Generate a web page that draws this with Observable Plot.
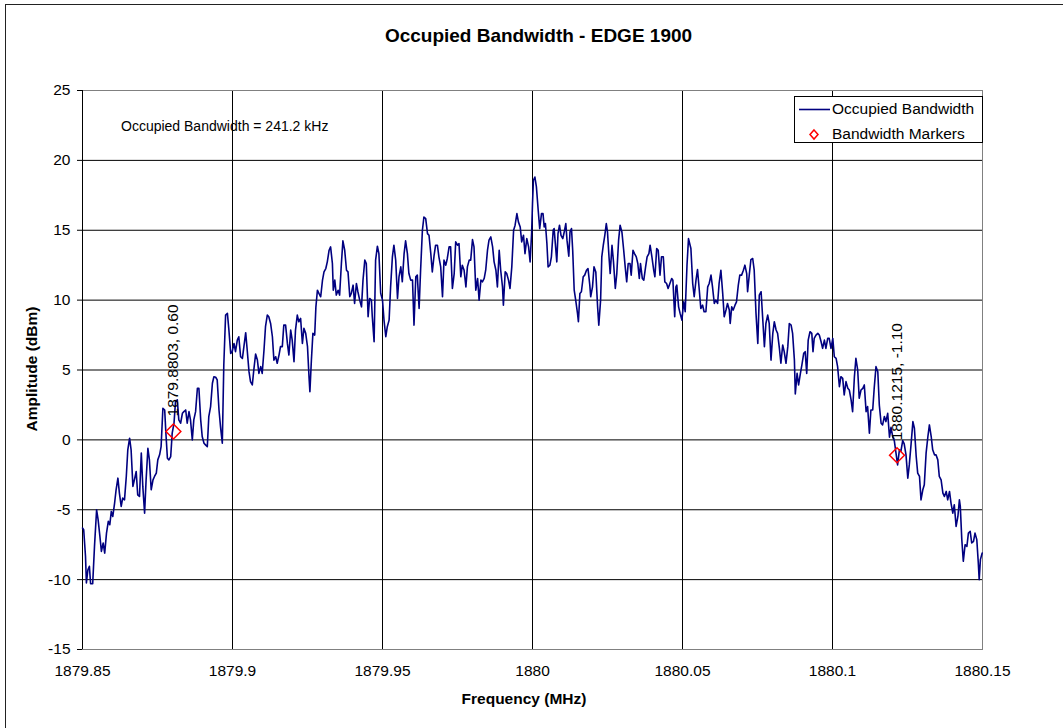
<!DOCTYPE html>
<html>
<head>
<meta charset="utf-8">
<script src="https://cdn.jsdelivr.net/npm/d3@7"></script>
<script src="https://cdn.jsdelivr.net/npm/@observablehq/plot@0.6"></script>
<style>
  html, body { margin: 0; padding: 0; background: #fff; overflow: hidden; }
  #wrap { position: relative; width: 1063px; height: 728px; font-family: "Liberation Sans", Arial, sans-serif; }
  #border { position: absolute; left: 5px; top: 4px; width: 1200px; height: 900px; border-left: 1px solid #222; border-top: 1px solid #222; }
  #chart { position: absolute; left: 0; top: 0; }
  #overlay { position: absolute; left: 0; top: 0; pointer-events: none; }
  #legend { position: absolute; left: 794px; top: 96px; width: 187px; height: 45px; border: 1px solid #000; background: #fff; font-size: 15.5px; }
  .li { position: absolute; left: 0; height: 20px; width: 187px; }
  .li span { position: absolute; left: 37px; top: 1px; white-space: nowrap; color: #000; }
  .li svg { position: absolute; left: 0; top: 0; }
</style>
</head>
<body>
<div id="wrap">
  <div id="border"></div>
  <div id="chart"></div>
  <svg id="overlay" width="1063" height="728"></svg>
  <div id="legend"></div>
</div>
<script>
// ---------- data ----------
const chartTitle = "Occupied Bandwidth - EDGE 1900";
const xAxisTitle = "Frequency (MHz)";
const yAxisTitle = "Amplitude (dBm)";
const annotation = "Occupied Bandwidth = 241.2 kHz";
const seriesNames = ["Occupied Bandwidth", "Bandwidth Markers"];

const xTicks = [1879.85, 1879.9, 1879.95, 1880, 1880.05, 1880.1, 1880.15];
const xTickLabels = ["1879.85", "1879.9", "1879.95", "1880", "1880.05", "1880.1", "1880.15"];
const yTicks = [-15, -10, -5, 0, 5, 10, 15, 20, 25];
const yTickLabels = ["-15", "-10", "-5", "0", "5", "10", "15", "20", "25"];

const markerFreq = [1879.8803, 1880.1215];
const markerAmp = [0.60, -1.10];
const markerLabels = ["1879.8803, 0.60", "1880.1215, -1.10"];

// spectrum trace: [frequency MHz, amplitude dBm]
const spectrum = [
[1879.8500,-6.31],[1879.8504,-6.43],[1879.8510,-8.33],[1879.8513,-10.24],[1879.8518,-9.29],[1879.8523,-9.05],
[1879.8527,-10.29],[1879.8534,-10.29],[1879.8540,-7.62],[1879.8547,-5.00],[1879.8552,-5.71],[1879.8558,-6.90],
[1879.8563,-7.98],[1879.8569,-7.38],[1879.8574,-8.10],[1879.8580,-6.67],[1879.8586,-5.83],[1879.8591,-6.07],
[1879.8596,-5.12],[1879.8601,-5.48],[1879.8607,-4.52],[1879.8612,-3.57],[1879.8618,-2.74],[1879.8623,-3.81],
[1879.8629,-4.76],[1879.8634,-4.17],[1879.8640,-4.29],[1879.8646,-2.62],[1879.8651,-0.71],[1879.8657,0.12],
[1879.8662,-0.71],[1879.8668,-3.33],[1879.8673,-2.86],[1879.8679,-2.26],[1879.8684,-3.93],[1879.8690,-4.05],
[1879.8696,-0.95],[1879.8701,-3.33],[1879.8707,-5.24],[1879.8712,-2.86],[1879.8718,-0.60],[1879.8723,-1.43],
[1879.8729,-3.57],[1879.8735,-2.86],[1879.8740,-2.62],[1879.8746,-2.38],[1879.8751,-1.43],[1879.8757,-1.07],
[1879.8762,-0.48],[1879.8768,2.26],[1879.8774,2.14],[1879.8778,0.48],[1879.8783,-1.31],[1879.8788,-1.43],
[1879.8794,-1.19],[1879.8799,0.48],[1879.8805,1.19],[1879.8810,2.74],[1879.8816,2.86],[1879.8821,1.43],
[1879.8827,1.19],[1879.8833,1.90],[1879.8838,2.02],[1879.8844,2.14],[1879.8849,1.19],[1879.8855,2.02],
[1879.8860,1.43],[1879.8866,0.00],[1879.8871,1.43],[1879.8877,2.02],[1879.8883,3.69],[1879.8888,3.69],
[1879.8894,1.43],[1879.8899,0.24],[1879.8905,-0.24],[1879.8910,-0.36],[1879.8916,-0.48],[1879.8921,1.67],
[1879.8927,2.38],[1879.8933,4.05],[1879.8938,4.52],[1879.8944,4.48],[1879.8949,4.29],[1879.8955,2.14],
[1879.8960,0.95],[1879.8966,-0.24],[1879.8971,5.36],[1879.8977,8.93],[1879.8983,9.05],[1879.8988,7.86],
[1879.8994,6.19],[1879.8999,6.31],[1879.9005,6.90],[1879.9010,6.31],[1879.9016,7.14],[1879.9021,7.38],
[1879.9027,5.95],[1879.9033,5.83],[1879.9038,6.67],[1879.9044,7.67],[1879.9049,6.43],[1879.9055,4.88],
[1879.9060,4.17],[1879.9066,3.93],[1879.9071,5.00],[1879.9077,6.14],[1879.9083,5.71],[1879.9088,4.76],
[1879.9094,5.24],[1879.9099,4.76],[1879.9105,6.43],[1879.9110,8.10],[1879.9116,8.93],[1879.9121,8.81],
[1879.9127,8.33],[1879.9133,7.38],[1879.9138,5.71],[1879.9144,5.95],[1879.9149,5.48],[1879.9155,6.07],
[1879.9160,6.67],[1879.9166,6.67],[1879.9171,8.21],[1879.9177,8.21],[1879.9183,6.90],[1879.9188,6.07],
[1879.9194,7.86],[1879.9199,7.14],[1879.9205,5.60],[1879.9210,7.86],[1879.9216,8.93],[1879.9221,8.45],
[1879.9227,8.69],[1879.9233,6.90],[1879.9238,7.98],[1879.9244,7.62],[1879.9250,6.67],[1879.9255,4.52],
[1879.9258,3.45],[1879.9263,5.71],[1879.9268,7.62],[1879.9274,7.50],[1879.9278,9.52],[1879.9283,10.71],
[1879.9288,10.48],[1879.9294,10.24],[1879.9300,11.43],[1879.9305,12.02],[1879.9311,12.26],[1879.9316,12.74],
[1879.9322,13.57],[1879.9327,13.81],[1879.9333,12.62],[1879.9336,10.71],[1879.9341,11.43],[1879.9346,10.36],
[1879.9352,10.71],[1879.9357,10.36],[1879.9363,12.62],[1879.9368,14.24],[1879.9374,13.57],[1879.9380,12.14],
[1879.9385,12.02],[1879.9391,10.24],[1879.9396,10.48],[1879.9402,11.07],[1879.9407,9.76],[1879.9413,11.19],
[1879.9418,10.60],[1879.9424,10.00],[1879.9430,9.52],[1879.9435,11.43],[1879.9441,12.86],[1879.9446,12.62],
[1879.9452,8.81],[1879.9457,10.12],[1879.9463,10.00],[1879.9466,8.81],[1879.9472,7.02],[1879.9477,12.86],
[1879.9483,13.86],[1879.9488,13.33],[1879.9494,10.48],[1879.9500,10.00],[1879.9505,8.57],[1879.9511,7.38],
[1879.9516,8.10],[1879.9522,8.57],[1879.9527,10.95],[1879.9533,13.10],[1879.9538,13.93],[1879.9544,12.86],
[1879.9550,10.12],[1879.9555,11.67],[1879.9561,12.38],[1879.9566,11.31],[1879.9572,13.33],[1879.9577,14.24],
[1879.9583,13.33],[1879.9588,11.90],[1879.9594,11.43],[1879.9600,11.43],[1879.9605,8.21],[1879.9611,11.67],
[1879.9616,11.79],[1879.9622,9.40],[1879.9627,12.14],[1879.9633,15.00],[1879.9638,15.95],[1879.9644,15.83],
[1879.9650,14.76],[1879.9655,14.64],[1879.9661,13.33],[1879.9666,12.02],[1879.9672,13.21],[1879.9677,13.93],
[1879.9683,13.93],[1879.9688,13.10],[1879.9694,12.38],[1879.9700,10.24],[1879.9705,12.86],[1879.9711,12.50],
[1879.9716,12.98],[1879.9722,13.81],[1879.9727,13.81],[1879.9733,10.83],[1879.9739,11.90],[1879.9744,14.17],
[1879.9750,13.93],[1879.9755,14.05],[1879.9761,11.67],[1879.9766,12.50],[1879.9772,12.14],[1879.9778,10.95],
[1879.9783,12.38],[1879.9789,12.86],[1879.9794,12.86],[1879.9800,14.33],[1879.9805,13.81],[1879.9811,10.71],
[1879.9817,11.55],[1879.9822,10.00],[1879.9828,11.43],[1879.9833,11.31],[1879.9839,11.55],[1879.9844,12.14],
[1879.9850,13.57],[1879.9855,14.29],[1879.9861,14.52],[1879.9867,13.81],[1879.9872,12.74],[1879.9878,12.14],
[1879.9883,10.95],[1879.9889,13.57],[1879.9894,12.14],[1879.9900,10.95],[1879.9903,9.64],[1879.9909,12.02],
[1879.9914,11.90],[1879.9920,11.43],[1879.9925,10.83],[1879.9931,12.38],[1879.9937,15.00],[1879.9942,15.36],
[1879.9948,16.19],[1879.9953,15.60],[1879.9959,15.24],[1879.9964,14.17],[1879.9970,14.64],[1879.9975,13.33],
[1879.9981,14.40],[1879.9987,13.81],[1879.9992,12.74],[1879.9997,14.76],[1880.0000,16.90],[1880.0003,18.57],
[1880.0008,18.81],[1880.0013,18.10],[1880.0019,16.43],[1880.0024,15.12],[1880.0030,16.19],[1880.0035,16.19],
[1880.0039,15.24],[1880.0043,15.48],[1880.0048,14.05],[1880.0052,12.38],[1880.0058,12.50],[1880.0063,13.10],
[1880.0069,15.00],[1880.0072,15.12],[1880.0077,13.81],[1880.0081,12.74],[1880.0085,14.76],[1880.0090,15.36],
[1880.0095,14.64],[1880.0101,14.40],[1880.0107,15.00],[1880.0111,15.48],[1880.0115,14.29],[1880.0121,13.14],
[1880.0125,14.88],[1880.0130,15.12],[1880.0134,13.57],[1880.0139,10.71],[1880.0144,10.00],[1880.0150,9.05],
[1880.0153,8.45],[1880.0158,10.48],[1880.0163,10.60],[1880.0169,11.67],[1880.0174,11.79],[1880.0180,12.14],
[1880.0185,12.26],[1880.0191,11.07],[1880.0194,10.24],[1880.0200,10.95],[1880.0205,12.38],[1880.0211,12.02],
[1880.0217,9.52],[1880.0221,8.21],[1880.0227,10.00],[1880.0231,13.10],[1880.0236,13.93],[1880.0241,14.64],
[1880.0246,15.48],[1880.0250,14.88],[1880.0255,13.10],[1880.0259,11.90],[1880.0265,13.93],[1880.0270,12.74],
[1880.0276,10.83],[1880.0281,11.90],[1880.0287,14.29],[1880.0292,15.36],[1880.0298,14.88],[1880.0304,13.57],
[1880.0309,12.38],[1880.0314,11.31],[1880.0319,12.62],[1880.0325,12.62],[1880.0329,11.79],[1880.0335,13.57],
[1880.0340,13.33],[1880.0346,13.10],[1880.0351,12.62],[1880.0356,11.55],[1880.0360,12.62],[1880.0366,11.55],
[1880.0371,11.43],[1880.0377,12.38],[1880.0382,13.10],[1880.0388,13.33],[1880.0392,13.93],[1880.0398,13.10],
[1880.0404,12.14],[1880.0408,11.67],[1880.0414,13.69],[1880.0419,13.57],[1880.0425,11.79],[1880.0430,13.10],
[1880.0436,13.10],[1880.0441,11.31],[1880.0447,11.19],[1880.0452,10.83],[1880.0458,11.19],[1880.0464,11.55],
[1880.0468,11.43],[1880.0474,8.81],[1880.0478,10.95],[1880.0481,11.07],[1880.0487,9.52],[1880.0492,9.05],
[1880.0498,8.57],[1880.0504,9.88],[1880.0509,9.17],[1880.0515,12.50],[1880.0520,14.40],[1880.0528,13.69],
[1880.0534,11.19],[1880.0539,10.24],[1880.0545,11.43],[1880.0550,12.19],[1880.0556,10.71],[1880.0561,9.40],
[1880.0567,9.64],[1880.0572,9.17],[1880.0578,9.17],[1880.0584,10.95],[1880.0589,11.19],[1880.0595,11.79],
[1880.0600,10.95],[1880.0606,9.76],[1880.0611,10.00],[1880.0617,9.76],[1880.0622,11.19],[1880.0628,12.14],
[1880.0634,10.48],[1880.0639,8.81],[1880.0645,9.29],[1880.0650,9.76],[1880.0656,9.29],[1880.0659,8.33],
[1880.0664,9.52],[1880.0669,9.29],[1880.0675,9.64],[1880.0680,9.88],[1880.0686,11.07],[1880.0691,11.79],
[1880.0697,11.79],[1880.0703,12.14],[1880.0708,12.50],[1880.0714,11.90],[1880.0717,10.60],[1880.0723,11.90],
[1880.0728,12.90],[1880.0734,12.98],[1880.0739,12.14],[1880.0745,9.05],[1880.0751,6.90],[1880.0756,10.36],
[1880.0762,10.60],[1880.0767,8.81],[1880.0773,6.67],[1880.0778,8.33],[1880.0784,8.93],[1880.0789,8.33],
[1880.0795,5.71],[1880.0801,7.62],[1880.0806,8.45],[1880.0812,7.86],[1880.0817,7.62],[1880.0823,6.55],
[1880.0828,5.48],[1880.0834,6.79],[1880.0839,6.31],[1880.0845,5.48],[1880.0851,6.67],[1880.0856,8.33],
[1880.0862,8.21],[1880.0867,7.62],[1880.0873,5.71],[1880.0876,3.29],[1880.0882,4.76],[1880.0887,3.93],
[1880.0893,4.76],[1880.0898,5.36],[1880.0904,6.19],[1880.0909,6.31],[1880.0914,4.76],[1880.0919,7.14],
[1880.0925,7.74],[1880.0931,7.62],[1880.0935,6.31],[1880.0939,7.26],[1880.0945,7.50],[1880.0951,7.62],
[1880.0956,7.50],[1880.0962,7.02],[1880.0967,6.55],[1880.0973,7.14],[1880.0978,6.55],[1880.0984,7.26],
[1880.0989,7.26],[1880.0995,6.55],[1880.1001,7.26],[1880.1006,5.95],[1880.1012,5.83],[1880.1017,5.24],
[1880.1023,3.81],[1880.1028,4.52],[1880.1034,4.40],[1880.1039,3.21],[1880.1045,4.17],[1880.1051,3.69],
[1880.1056,3.57],[1880.1062,2.86],[1880.1067,2.02],[1880.1073,4.52],[1880.1078,5.83],[1880.1084,5.00],
[1880.1089,2.98],[1880.1095,3.57],[1880.1101,3.69],[1880.1106,3.93],[1880.1112,2.02],[1880.1117,2.38],
[1880.1123,0.48],[1880.1128,2.14],[1880.1134,2.14],[1880.1139,3.69],[1880.1145,5.24],[1880.1151,4.88],
[1880.1156,2.50],[1880.1162,1.19],[1880.1167,1.07],[1880.1173,1.67],[1880.1178,1.31],[1880.1184,1.90],
[1880.1190,0.19],[1880.1195,0.90],[1880.1201,0.19],[1880.1206,-0.05],[1880.1212,-1.00],[1880.1217,-1.79],
[1880.1223,-0.71],[1880.1228,-0.83],[1880.1234,-0.05],[1880.1239,-0.29],[1880.1245,-1.07],[1880.1251,-2.74],
[1880.1256,-1.79],[1880.1262,-0.29],[1880.1268,1.31],[1880.1273,0.83],[1880.1279,-1.19],[1880.1284,-2.38],
[1880.1290,-2.62],[1880.1295,-4.29],[1880.1301,-3.57],[1880.1306,-3.21],[1880.1312,-0.95],[1880.1318,0.24],
[1880.1323,1.07],[1880.1329,0.24],[1880.1334,-0.71],[1880.1340,-1.07],[1880.1345,-1.07],[1880.1351,-1.43],
[1880.1356,-2.62],[1880.1362,-2.86],[1880.1368,-3.81],[1880.1373,-4.05],[1880.1379,-3.69],[1880.1384,-4.29],
[1880.1390,-3.69],[1880.1395,-4.52],[1880.1401,-5.24],[1880.1406,-4.64],[1880.1412,-6.19],[1880.1418,-5.48],
[1880.1423,-4.29],[1880.1426,-4.76],[1880.1431,-7.14],[1880.1436,-8.69],[1880.1442,-7.50],[1880.1448,-7.62],
[1880.1453,-6.67],[1880.1459,-6.55],[1880.1464,-7.38],[1880.1470,-7.26],[1880.1475,-6.67],[1880.1481,-7.14],
[1880.1486,-8.81],[1880.1489,-10.00],[1880.1493,-8.57],[1880.1499,-8.10]
];

// ---------- chart ----------
const FONT = '"Liberation Sans", Arial, sans-serif';
const xLabelMap = new Map(xTicks.map((t, i) => [t, xTickLabels[i]]));
const yLabelMap = new Map(yTicks.map((t, i) => [t, yTickLabels[i]]));
const markers = markerFreq.map((f, i) => ({f, a: markerAmp[i], label: markerLabels[i]}));

const chart = Plot.plot({
  width: 1063,
  height: 728,
  marginLeft: 82,
  marginRight: 81,
  marginTop: 90,
  marginBottom: 79,
  style: {fontFamily: FONT, fontSize: "15.5px", background: "transparent", color: "#000", overflow: "visible"},
  x: {domain: [1879.85, 1880.15], ticks: xTicks, tickFormat: d => xLabelMap.get(d), tickSize: 0, tickPadding: 15, label: null},
  y: {domain: [-15, 25], ticks: yTicks, tickFormat: d => yLabelMap.get(d), tickSize: 5, tickPadding: 7, label: null},
  marks: [
    Plot.ruleX(xTicks.slice(1, -1), {stroke: "#000", strokeWidth: 1}),
    Plot.ruleY(yTicks.slice(1, -1), {stroke: "#000", strokeWidth: 1}),
    Plot.frame({stroke: "#808080", strokeWidth: 1}),
    Plot.ruleX([xTicks[0]], {stroke: "#000", strokeWidth: 1}),
    Plot.line(spectrum, {x: d => d[0], y: d => d[1], stroke: "#000080", strokeWidth: 1.6}),
    Plot.dot(markers, {x: "f", y: "a", symbol: "diamond2", r: 6.7, stroke: "#ff0000", strokeWidth: 1.5, fill: "none"}),
    Plot.text(markers, {x: "f", y: "a", text: "label", rotate: -90, textAnchor: "start", dy: -15, fontSize: 15.5, fill: "#000"})
  ]
});
document.getElementById("chart").appendChild(chart);

// titles and annotation (real text)
const ov = d3.select("#overlay");
ov.append("text").attr("x", 538.5).attr("y", 42).attr("text-anchor", "middle")
  .attr("font-family", FONT).attr("font-weight", "bold").attr("font-size", 19).text(chartTitle);
ov.append("text").attr("transform", "translate(37,369) rotate(-90)").attr("text-anchor", "middle")
  .attr("font-family", FONT).attr("font-weight", "bold").attr("font-size", 15.5).text(yAxisTitle);
ov.append("text").attr("x", 524).attr("y", 704).attr("text-anchor", "middle")
  .attr("font-family", FONT).attr("font-weight", "bold").attr("font-size", 15.5).text(xAxisTitle);
ov.append("text").attr("x", 121).attr("y", 131).attr("text-anchor", "start")
  .attr("font-family", FONT).attr("font-size", 14).text(annotation);

// legend
const lg = document.getElementById("legend");
lg.innerHTML = `
  <div class="li" style="top:2px">
    <svg width="36" height="20"><line x1="4" x2="35" y1="10.5" y2="10.5" stroke="#000080" stroke-width="1.6"/></svg>
    <span>${seriesNames[0]}</span>
  </div>
  <div class="li" style="top:27px">
    <svg width="36" height="20"><path d="M19,6 L23,10.5 L19,15 L15,10.5 Z" fill="none" stroke="#ff0000" stroke-width="1.5"/></svg>
    <span>${seriesNames[1]}</span>
  </div>`;
</script>
</body>
</html>
